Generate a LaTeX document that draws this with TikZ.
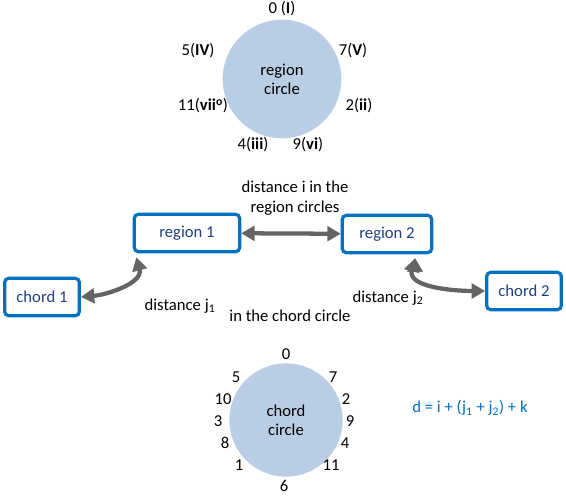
\documentclass[tikz,border=0pt]{standalone}
\usepackage{fontspec}
\setmainfont{Carlito}
\usetikzlibrary{positioning,arrows,arrows.meta}
\definecolor{circfill}{HTML}{B9CDE5}
\definecolor{boxblue}{HTML}{0070C0}
\definecolor{boxtext}{HTML}{1F3F7F}
\definecolor{arrgray}{HTML}{646464}

\begin{document}
\begin{tikzpicture}[x=0.75pt,y=-0.75pt,font=\fontsize{12.5}{14}\selectfont,
    circ/.style={circle,fill=circfill,inner sep=0pt,align=center},
    box/.style={draw=boxblue,line width=2.4pt,rounded corners=3pt,text=boxtext,minimum height=28pt},
    link/.style={{Triangle[length=10pt,width=11pt]}-{Triangle[length=10pt,width=11pt]},line width=3.2pt,draw=arrgray,fill=arrgray}]
    \useasboundingbox (0,0) rectangle (566,495);
    % region circle
    \node[circ,minimum size=89pt] at (282,79) (regcirc) {region\\circle};
    \node at (282,9) (r0) {0 (\textbf{I})};
    \node at (198,51) (r5) {5(\textbf{IV})};
    \node at (353,51) (r7) {7(\textbf{V})};
    \node at (203,106) (r11) {11(\textbf{vii\textsuperscript{o}})};
    \node at (359,106) (r2) {2(\textbf{ii})};
    \node at (253,145) (r4) {4(\textbf{iii})};
    \node at (308,145) (r9) {9(\textbf{vi})};
    % boxes
    \node[box,minimum width=79pt] at (187,233) (region1) {region 1};
    \node[box,minimum width=67pt] at (387,234) (region2) {region 2};
    \node[box,minimum width=56pt] at (42,297) (chord1) {chord 1};
    \node[box,minimum width=56pt] at (524,291) (chord2) {chord 2};
    \node at (295,187) (ltop1) {distance i in the};
    \node at (295,208) (ltop2) {region circles};
    \node at (180,306) (lj1) {distance j\textsubscript{1}};
    \node at (388,298) (lj2) {distance j\textsubscript{2}};
    \node at (290,316) (lbot) {in the chord circle};
    \path[link]
    (region1) edge (region2)
    (chord1.east) edge [out=5, in=-75] ([xshift=-38pt,yshift=-3pt]region1.south)
    ([xshift=21pt,yshift=-3pt]region2.south) edge [out=-105, in=180] (chord2.west)
    ;
    % chord circle
    \node[circ,minimum size=85pt] at (286,420) (chcirc) {chord\\circle};
    \node at (286,354) (c0) {0};
    \node at (236,377) (c5) {5};
    \node at (333,377) (c7) {7};
    \node at (223,399) (c10) {10};
    \node at (346,399) (c2) {2};
    \node at (218,421) (c3) {3};
    \node at (350,421) (c9) {9};
    \node at (225,443) (c8) {8};
    \node at (345,443) (c4) {4};
    \node at (239,465) (c1) {1};
    \node at (331,465) (c11) {11};
    \node at (284,486) (c6) {6};
    \node[text=boxblue] at (470,408) (formula) {d = i + (j\textsubscript{1} + j\textsubscript{2}) + k};
\end{tikzpicture}
\end{document}
